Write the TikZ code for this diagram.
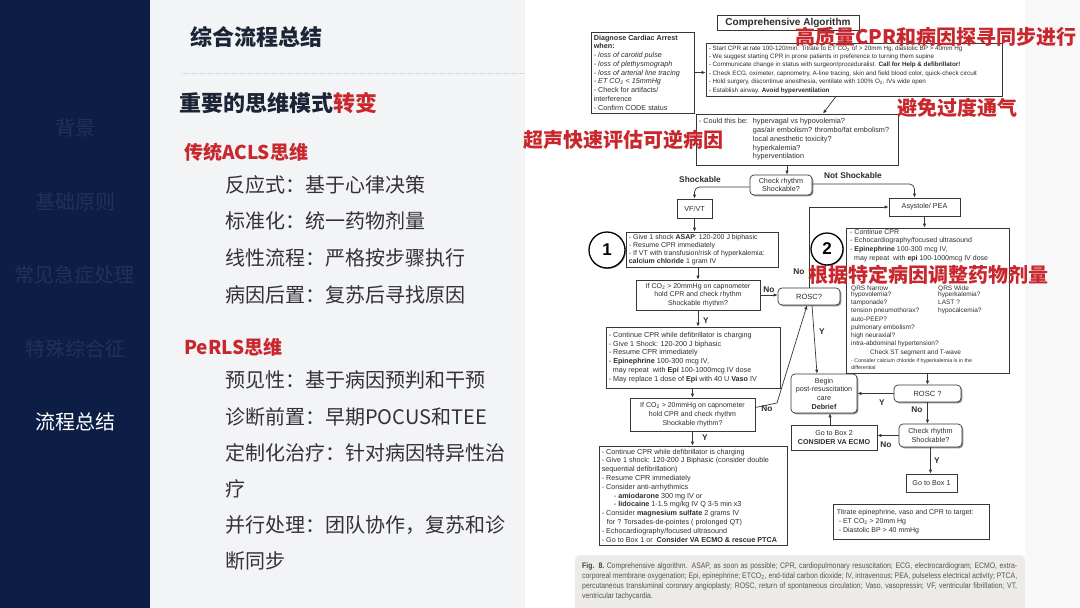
\documentclass[tikz,border=0pt]{standalone}
\usepackage{fontspec}
\setmainfont{Liberation Sans}
\newfontfamily\cjk{Noto Sans CJK SC}
\newfontfamily\capfont{Liberation Sans}[FakeStretch=0.86]
\usetikzlibrary{arrows.meta,shadows,calc}
\newcommand\myfs[2]{\fontsize{#1}{#2}\selectfont}
\definecolor{navy}{RGB}{12,30,70}
\definecolor{navyfade}{RGB}{32,50,90}
\definecolor{panel}{RGB}{243,244,246}
\definecolor{redc}{RGB}{200,40,45}
\definecolor{headc}{RGB}{28,36,54}
\definecolor{itemc}{RGB}{50,50,55}
\definecolor{boxc}{RGB}{55,55,55}
\definecolor{txtc}{RGB}{45,45,45}
\definecolor{capbg}{RGB}{236,235,231}
\definecolor{capc}{RGB}{85,85,85}
\definecolor{edgec}{RGB}{248,248,248}
\tikzset{
  fbox/.style={draw=boxc, line width=0.7pt, fill=white, inner sep=0pt,
    drop shadow={shadow xshift=1.3pt, shadow yshift=-1.3pt, opacity=0.45, fill=black}},
  rbox/.style={fbox, rounded corners=4pt},
  txt/.style={inner sep=0pt, align=left, text=txtc, anchor=west},
  ctxt/.style={inner sep=0pt, align=center, text=txtc},
  arr/.style={-{Latex[length=4pt,width=3.4pt]}, line width=0.7pt, draw=boxc},
  lbl/.style={font=\bfseries\myfs{8.3}{9}, text=txtc, inner sep=0pt},
  redtxt/.style={font=\cjk\bfseries\myfs{20}{24}, text=redc, inner sep=0pt, anchor=west},
  side/.style={font=\cjk\myfs{20}{24}, text=navyfade, inner sep=0pt},
  item/.style={font=\cjk\myfs{20}{24}, text=itemc, inner sep=0pt, anchor=west},
  circ/.style={circle, draw=black, line width=1.3pt, fill=white, inner sep=0pt,
    font=\bfseries\myfs{17}{17}, text=black,
    drop shadow={shadow xshift=1pt, shadow yshift=-1pt, opacity=0.35, fill=black}},
}
\begin{document}
\begin{tikzpicture}[x=1pt,y=-1pt]
\useasboundingbox (0,0) rectangle (1080,608);
% backgrounds
\fill[white] (0,0) rectangle (1080,608);
\fill[navy] (0,0) rectangle (150,608);
\fill[panel] (150,0) rectangle (525,608);
\fill[edgec] (1025,0) rectangle (1080,608);
\draw[gray!35, line width=0.6pt, dash pattern=on 1pt off 0.6pt] (182,73) -- (525,73);

% sidebar
\node[side] (s1) at (75,128) {背景};
\node[side] (s2) at (75,202) {基础原则};
\node[side] (s3) at (75,275) {常见急症处理};
\node[side] (s4) at (75,349) {特殊综合征};
\node[side, text=white] (s5) at (75,422) {流程总结};

% left panel
\node[anchor=west, inner sep=0pt, font=\cjk\bfseries\myfs{22}{26}, text=headc] (h1) at (190,37) {综合流程总结};
\node[anchor=west, inner sep=0pt, font=\cjk\bfseries\myfs{22}{26}, text=headc] (h2) at (179,103) {重要的思维模式\textcolor{redc}{转变}};
\node[anchor=west, inner sep=0pt, font=\cjk\bfseries\myfs{19}{24}, text=redc] (h3) at (184,152) {传统ACLS思维};
\node[item] (i1) at (225,185) {反应式：基于心律决策};
\node[item] (i2) at (225,221) {标准化：统一药物剂量};
\node[item] (i3) at (225,258) {线性流程：严格按步骤执行};
\node[item] (i4) at (225,295) {病因后置：复苏后寻找原因};
\node[anchor=west, inner sep=0pt, font=\cjk\bfseries\myfs{19}{24}, text=redc] (h4) at (184,347) {PeRLS思维};
\node[item] (j1) at (225,380) {预见性：基于病因预判和干预};
\node[item] (j2) at (225,417) {诊断前置：早期POCUS和TEE};
\node[item] (j3) at (225,453) {定制化治疗：针对病因特异性治};
\node[item] (j4) at (225,489) {疗};
\node[item] (j5) at (225,525) {并行处理：团队协作，复苏和诊};
\node[item] (j6) at (225,561) {断同步};

% ---------------- flowchart ----------------
\node[fbox, minimum width=142pt, minimum height=15pt, font=\bfseries\myfs{10}{11}, text=txtc] (title) at (788,22.5) {Comprehensive Algorithm};

\node[fbox, minimum width=103pt, minimum height=81pt] (diag) at (642.5,72.5) {};
\node[txt, font=\myfs{7.2}{8.75}] (diagt) at ([xshift=3pt]diag.west) {\textbf{Diagnose Cardiac Arrest}\\\textbf{when:}\\\textit{- loss of carotid pulse}\\\textit{- loss of plethysmograph}\\\textit{- loss of arterial line tracing}\\\textit{- ET CO\textsubscript{2} < 15mmHg}\\- Check for artifacts/\\interference\\- Confirm CODE status};

\node[fbox, minimum width=296pt, minimum height=53pt] (top) at (854,69.5) {};
\node[txt, font=\myfs{6.3}{8.35}] (topt) at ([xshift=3pt]top.west) {- Start CPR at rate 100-120/min. Titrate to ET CO\textsubscript{2} of > 20mm Hg, diastolic BP > 40mm Hg\\- We suggest starting CPR in prone patients in preference to turning them supine\\- Communicate change in status with surgeon/proceduralist. \textbf{Call for Help \& defibrillator!}\\- Check ECG, oximeter, capnometry, A-line tracing, skin and field blood color, quick-check circuit\\- Hold surgery, discontinue anesthesia, ventilate with 100\% O\textsubscript{2}, IVs wide open\\- Establish airway. \textbf{Avoid hyperventilation}};

\node[fbox, minimum width=202pt, minimum height=51pt] (could) at (797,139.5) {};
\node[txt, font=\myfs{7.3}{8.75}] (couldt) at ([xshift=3pt]could.west) {\begin{tabular}{@{}l@{\hspace{5pt}}l@{}}- Could this be: & hypervagal vs hypovolemia?\\ & gas/air embolism? thrombo/fat embolism?\\ & local anesthetic toxicity?\\ & hyperkalemia?\\ & hyperventilation\end{tabular}};

\node[rbox, minimum width=62pt, minimum height=20pt, font=\myfs{7.2}{8.4}, align=center, text=txtc] (chk1) at (781,185) {Check rhythm\\Shockable?};
\node[fbox, minimum width=35pt, minimum height=19pt, font=\myfs{7.2}{8.4}, text=txtc] (vfvt) at (694.5,208.5) {VF/VT};
\node[fbox, minimum width=71pt, minimum height=18pt, font=\myfs{7.2}{8.4}, text=txtc] (asys) at (924.5,207) {Asystole/ PEA};

\node[circ, minimum size=36pt] (c1) at (607,250) {1};
\node[fbox, minimum width=152pt, minimum height=35pt] (box1) at (702,249.5) {};
\node[txt, font=\myfs{7}{8.2}] (box1t) at ([xshift=3pt]box1.west) {- Give 1 shock \textbf{ASAP}: 120-200 J biphasic\\- Resume CPR immediately\\- If VT with transfusion/risk of hyperkalemia:\\\textbf{calcium chloride} 1 gram IV};

\node[circ, minimum size=32pt] (c2) at (827,249) {2};
\node[fbox, minimum width=163pt, minimum height=145pt] (box2) at (927.5,300.5) {};
\node[txt, font=\myfs{7}{8.7}, anchor=north west] (b2a) at (850,229) {- Continue CPR\\- Echocardiography/focused ultrasound\\- \textbf{Epinephrine} 100-300 mcg IV,\\\hspace*{4pt}may repeat\ \ with \textbf{epi} 100-1000mcg IV dose};
\node[txt, font=\myfs{6.5}{8.2}] (b2q1) at (851,288.5) {QRS Narrow};
\node[txt, font=\myfs{6.5}{8.2}] (b2q2) at (938,288.5) {QRS Wide};
\node[txt, font=\myfs{6.5}{8.2}, anchor=north west] (b2l) at (851,291.5) {hypovolemia?\\tamponade?\\tension pneumothorax?\\auto-PEEP?\\pulmonary embolism?\\high neuraxial?\\intra-abdominal hypertension?};
\node[txt, font=\myfs{6.5}{8.2}, anchor=north west] (b2r) at (938,291.5) {hyperkalemia?\\LAST ?\\hypocalcemia?};
\node[txt, font=\myfs{6.5}{8.2}] (b2st) at (870,353) {Check ST segment and T-wave};
\node[txt, font=\myfs{5.3}{7}, anchor=north west] (b2c) at (851,358.5) {- Consider calcium chloride if hyperkalemia is in the\\differential};

\node[fbox, minimum width=124pt, minimum height=30pt, font=\myfs{7}{8.5}, align=center, text=txtc] (if1) at (698,295) {If\ CO\textsubscript{2} > 20mmHg on capnometer\\hold CPR and check rhythm\\Shockable rhythm?};
\node[rbox, minimum width=62pt, minimum height=17pt, font=\myfs{7.5}{8.5}, text=txtc] (rosc1) at (809,296.5) {ROSC?};

\node[fbox, minimum width=174pt, minimum height=61pt] (cont1) at (693,357.5) {};
\node[txt, font=\myfs{7.2}{8.9}] (cont1t) at ([xshift=3pt]cont1.west) {- Continue CPR while defibrillator is charging\\- Give 1 Shock: 120-200 J biphasic\\- Resume CPR immediately\\- \textbf{Epinephrine} 100-300 mcg IV,\\\hspace*{4pt}may repeat\ \ with \textbf{Epi} 100-1000mcg IV dose\\- May replace 1 dose of \textbf{Epi} with 40 U \textbf{Vaso} IV};

\node[fbox, minimum width=125pt, minimum height=33pt, font=\myfs{7}{8.7}, align=center, text=txtc] (if2) at (692.5,414.5) {If\ CO\textsubscript{2} > 20mmHg on capnometer\\hold CPR and check rhythm\\Shockable rhythm?};

\node[rbox, minimum width=66pt, minimum height=39pt, font=\myfs{7.2}{8.7}, align=center, text=txtc] (begin) at (824,393.5) {Begin\\post-resuscitation\\care\\\textbf{Debrief}};
\node[rbox, minimum width=67pt, minimum height=17pt, font=\myfs{7.5}{8.5}, text=txtc] (rosc2) at (927.5,393.5) {ROSC ?};
\node[rbox, minimum width=63pt, minimum height=23pt, font=\myfs{7.2}{8.4}, align=center, text=txtc] (chk2) at (930.5,435.5) {Check rhythm\\Shockable?};
\node[fbox, minimum width=86pt, minimum height=25pt, font=\myfs{7.1}{9}, align=center, text=txtc] (gob2) at (834,437.5) {Go to Box 2\\\textbf{CONSIDER VA ECMO}};
\node[fbox, minimum width=51pt, minimum height=18pt, font=\myfs{7.2}{8.4}, text=txtc] (gob1) at (931.5,483) {Go to Box 1};

\node[fbox, minimum width=156pt, minimum height=35pt] (titr) at (911,521.5) {};
\node[txt, font=\myfs{7}{8.8}] (titrt) at ([xshift=4pt]titr.west) {Titrate epinephrine, vaso and CPR to target:\\\ - ET CO\textsubscript{2} > 20mm Hg\\\ - Diastolic BP > 40 mmHg};

\node[fbox, minimum width=188pt, minimum height=99pt] (cont2) at (693,495.5) {};
\node[txt, font=\myfs{7.2}{8.8}] (cont2t) at ([xshift=3pt]cont2.west) {- Continue CPR while defibrillator is charging\\- Give 1 shock: 120-200 J Biphasic (consider double\\sequential defibrillation)\\- Resume CPR immediately\\- Consider anti-arrhythmics\\\hspace*{12pt}- \textbf{amiodarone} 300 mg IV or\\\hspace*{12pt}- \textbf{lidocaine} 1-1.5 mg/kg IV Q 3-5 min x3\\- Consider \textbf{magnesium sulfate} 2 grams IV\\\hspace*{5pt}for ? Torsades-de-pointes ( prolonged QT)\\- Echocardiography/focused ultrasound\\- Go to Box 1 or\ \ \textbf{Consider VA ECMO \& rescue PTCA}};

% caption
\fill[capbg, rounded corners=5pt] (575,555) rectangle (1025,612);
\node[anchor=west, inner sep=0pt, text width=435pt, align=justify, font=\capfont\myfs{8}{10}, text=capc] (cap) at (582,581) {\textbf{\color{black!75}Fig. 8.}\ Comprehensive algorithm. ASAP, as soon as possible; CPR, cardiopulmonary resuscitation; ECG, electrocardiogram; ECMO, extra-\linebreak corporeal membrane oxygenation; Epi, epinephrine; ETCO\textsubscript{2}, end-tidal carbon dioxide; IV, intravenous; PEA, pulseless electrical activity; PTCA,\linebreak percutaneous transluminal coronary angioplasty; ROSC, return of spontaneous circulation; Vaso, vasopressin; VF, ventricular fibrillation; VT,\linebreak ventricular tachycardia.};

% connectors
\draw[arr] (diag.east) -- (diag.east -| top.west);
\draw[arr] ([xshift=-18pt]top.south) -- ([xshift=26pt]could.north);
\draw[arr] ([xshift=-10pt]could.south) -- ([xshift=-10pt]could.south |- chk1.north);
\draw[arr, rounded corners=5pt] ([yshift=-2pt]chk1.west) -| (vfvt.north);
\draw[arr, rounded corners=5pt] ([yshift=1pt]chk1.east) -| ([xshift=-10pt]asys.north);
\draw[arr] (rosc1.north) |- (asys.west);
\draw[arr] (vfvt.south) -- (vfvt.south |- box1.north);
\draw[arr] (if1.north |- box1.south) -- (if1.north);
\draw[arr] (if1.east) -- (if1.east -| rosc1.west);
\draw[arr] (if1.south) -- (if1.south |- cont1.north);
\draw[arr] (if2.north |- cont1.south) -- (if2.north);
\coordinate (k1) at (777,403);
\draw[arr] ([yshift=7pt]if2.east) -- (k1) -- ([xshift=-2pt]rosc1.south);
\draw[arr] ([xshift=3pt]rosc1.south) -- ([xshift=-7pt]begin.north);
\draw[arr] (if2.south) -- (if2.south |- cont2.north);
\draw[arr] (asys.south) -- (asys.south |- box2.north);
\draw[arr] (box2.south) -- (rosc2.north);
\draw[arr] (rosc2.west) -- (begin.east);
\draw[arr] (rosc2.south) -- (rosc2.south |- chk2.north);
\draw[arr] (chk2.west) -- (chk2.west -| gob2.east);
\draw[arr] ([xshift=-4pt]gob2.north) -- ([xshift=-4pt]gob2.north |- begin.south);
\draw[arr] (chk2.south) -- (chk2.south |- gob1.north);

% labels
\node[lbl] (lshock) at (700,180) {Shockable};
\node[lbl] (lnshock) at (853,176) {Not Shockable};
\node[lbl] (lno1) at (799,272) {No};
\node[lbl] (lno2) at (769,290) {No};
\node[lbl] (ly1) at (706,321) {Y};
\node[lbl] (lno3) at (767,409) {No};
\node[lbl] (ly2) at (822,332) {Y};
\node[lbl] (ly3) at (705,438) {Y};
\node[lbl] (ly4) at (882,403) {Y};
\node[lbl] (lno4) at (917,410) {No};
\node[lbl] (lno5) at (886,445) {No};
\node[lbl] (ly5) at (937,461) {Y};

% red overlay notes
\node[redtxt] (r1) at (795,37) {高质量CPR和病因探寻同步进行};
\node[redtxt] (r2) at (897,108) {避免过度通气};
\node[redtxt] (r3) at (523,140) {超声快速评估可逆病因};
\node[redtxt] (r4) at (808,275) {根据特定病因调整药物剂量};
\end{tikzpicture}
\end{document}
